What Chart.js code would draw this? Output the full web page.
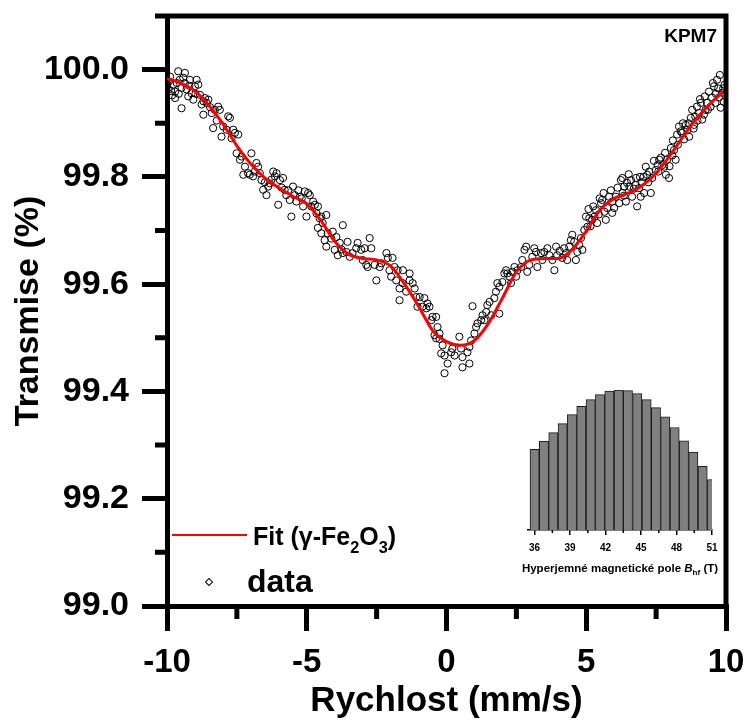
<!DOCTYPE html>
<html><head><meta charset="utf-8">
<script src="https://cdn.jsdelivr.net/npm/chart.js@4.4.1/dist/chart.umd.min.js"></script>
<style>
html,body{margin:0;padding:0;background:#fff;}
#wrap{position:relative;width:749px;height:724px;overflow:hidden;font-family:'Liberation Sans',Arial,sans-serif;color:#000;}
canvas{position:absolute;}
.t{position:absolute;white-space:nowrap;line-height:1;font-weight:bold;}
.sb{font-size:65%;position:relative;top:0.5em;}
.sb2{font-size:70%;position:relative;top:0.35em;}
</style></head><body>
<div id="wrap">
<canvas id="main" width="749" height="724" style="left:0;top:0;width:749px;height:724px"></canvas>
<canvas id="inset" width="240" height="220" style="left:500px;top:370px;width:240px;height:220px"></canvas>
<div class="t" style="right:32px;top:26px;font-size:19px;">KPM7</div>
<div style="position:absolute;left:172px;top:534px;width:75px;height:2px;background:#ff0000"></div>
<div class="t" style="left:253px;top:524px;font-size:25px;">Fit (γ-Fe<span class="sb">2</span>O<span class="sb">3</span>)</div>
<div style="position:absolute;left:206px;top:579px;width:4px;height:4px;border:1px solid #000;transform:rotate(45deg)"></div>
<div class="t" style="left:247px;top:565px;font-size:32px;">data</div>
<div class="t" style="left:620px;top:563px;font-size:11.5px;transform:translateX(-50%)">Hyperjemné magnetické pole <i>B</i><span class="sb2">hf</span> (T)</div>
</div>
<script>
// ---- main spectrum: fit curve ----
const fitVelocity = [-10,-9.5,-9,-8.5,-8,-7.5,-7,-6.5,-6,-5.5,
  -5,-4.5,-4,-3.5,-3,-2.5,-2,-1.5,-1,-0.5,
  0,0.5,1,1.5,2,2.5,3,3.5,4,4.5,
  5,5.5,6,6.5,7,7.5,8,8.5,9,9.5,
  10];
const fitTransmission = [99.983,99.975,99.960,99.933,99.899,99.858,99.824,99.798,99.780,99.764,
  99.750,99.719,99.680,99.656,99.648,99.645,99.634,99.600,99.559,99.514,
  99.493,99.486,99.495,99.527,99.574,99.623,99.645,99.648,99.648,99.665,
  99.699,99.739,99.760,99.770,99.784,99.807,99.840,99.878,99.912,99.940,
  99.963];

// ---- main spectrum: measured points ----
const dataVelocity = [
  -9.97,-9.93,-9.89,-9.82,-9.77,-9.71,-9.71,-9.65,-9.60,-9.54,
  -9.48,-9.48,-9.36,-9.36,-9.30,-9.24,-9.18,-9.12,-9.06,-9.00,
  -8.94,-8.88,-8.82,-8.70,-8.70,-8.64,-8.58,-8.52,-8.40,-8.35,
  -8.29,-8.17,-8.11,-8.05,-7.99,-7.87,-7.81,-7.75,-7.69,-7.63,
  -7.57,-7.51,-7.45,-7.39,-7.33,-7.27,-7.21,-7.10,-7.04,-6.98,
  -6.92,-6.80,-6.74,-6.68,-6.62,-6.56,-6.44,-6.38,-6.32,-6.20,
  -6.14,-6.08,-6.02,-5.96,-5.85,-5.79,-5.73,-5.61,-5.55,-5.49,
  -5.43,-5.37,-5.25,-5.13,-5.07,-5.01,-4.95,-4.89,-4.77,-4.71,
  -4.65,-4.60,-4.60,-4.54,-4.48,-4.48,-4.43,-4.36,-4.30,-4.30,
  -4.25,-4.07,-4.00,-3.94,-3.89,-3.82,-3.71,-3.71,-3.58,-3.54,
  -3.46,-3.36,-3.23,-3.18,-3.05,-3.00,-2.93,-2.87,-2.82,-2.75,
  -2.69,-2.57,-2.51,-2.39,-2.33,-2.15,-2.10,-2.04,-1.98,-1.93,
  -1.86,-1.80,-1.75,-1.68,-1.68,-1.57,-1.56,-1.44,-1.32,-1.32,
  -1.21,-1.14,-1.08,-1.04,-0.96,-0.86,-0.79,-0.72,-0.68,-0.61,
  -0.54,-0.50,-0.43,-0.37,-0.37,-0.32,-0.25,-0.25,-0.19,-0.14,
  -0.07,-0.07,0.04,0.17,0.21,0.29,0.46,0.52,0.57,0.57,
  0.75,0.82,0.82,0.88,0.93,1.00,1.06,1.11,1.24,1.29,
  1.36,1.42,1.46,1.54,1.60,1.71,1.77,1.82,1.89,1.89,
  2.00,2.07,2.13,2.18,2.25,2.31,2.36,2.43,2.49,2.54,
  2.67,2.71,2.79,2.85,2.89,2.96,3.07,3.14,3.20,3.25,
  3.38,3.43,3.50,3.61,3.68,3.79,3.86,3.92,3.96,4.05,
  4.14,4.21,4.28,4.32,4.39,4.45,4.50,4.57,4.63,4.68,
  4.75,4.81,4.86,4.93,4.99,5.04,5.11,5.15,5.21,5.29,
  5.35,5.39,5.45,5.53,5.57,5.65,5.70,5.75,5.82,5.93,
  5.93,6.00,6.06,6.18,6.24,6.29,6.30,6.36,6.42,6.46,
  6.54,6.60,6.64,6.70,6.78,6.82,6.89,6.95,7.00,7.07,
  7.13,7.18,7.25,7.31,7.36,7.49,7.55,7.61,7.67,7.72,
  7.79,7.85,7.89,7.96,8.03,8.10,8.14,8.20,8.25,8.32,
  8.38,8.43,8.50,8.56,8.62,8.68,8.74,8.79,8.86,8.90,
  8.96,9.04,9.10,9.15,9.21,9.27,9.32,9.39,9.45,9.50,
  9.57,9.62,9.64,9.68,9.75,9.81,9.86,9.90,9.95,
  -9.85,-9.58,-9.42,-9.20,-8.98,-8.76,-8.46,-8.22,
  -6.86,-6.50,-6.26,-5.90,-5.66,-5.30,-5.18,-4.84,-4.12,-3.76,
  5.08,5.25,5.48,5.62,5.88,6.12,6.35,6.52,6.75,6.92,
  7.05,7.22,7.42,7.58,7.82,7.98,8.08,8.28,8.46,8.66,
  8.84,8.98,9.07,9.24,9.35,9.53,9.72,9.78,9.92];
const dataTransmission = [
  99.965,99.978,99.987,99.952,99.972,99.959,99.947,99.975,99.997,99.981,
  99.966,99.928,99.994,99.975,99.963,99.950,99.981,99.956,99.944,99.969,
  99.981,99.972,99.953,99.941,99.916,99.947,99.938,99.944,99.919,99.891,
  99.925,99.931,99.925,99.875,99.894,99.888,99.913,99.910,99.872,99.888,
  99.882,99.844,99.879,99.832,99.838,99.804,99.819,99.807,99.804,99.844,
  99.801,99.826,99.819,99.807,99.794,99.776,99.766,99.782,99.788,99.810,
  99.801,99.807,99.748,99.794,99.798,99.776,99.766,99.757,99.726,99.782,
  99.766,99.754,99.763,99.745,99.773,99.726,99.770,99.766,99.754,99.748,
  99.732,99.745,99.705,99.723,99.726,99.695,99.714,99.682,99.729,99.670,
  99.695,99.698,99.664,99.688,99.654,99.677,99.710,99.658,99.660,99.679,
  99.651,99.658,99.667,99.677,99.664,99.645,99.667,99.636,99.632,99.686,
  99.667,99.636,99.607,99.632,99.639,99.658,99.649,99.626,99.614,99.649,
  99.632,99.607,99.626,99.592,99.570,99.602,99.626,99.586,99.607,99.620,
  99.602,99.592,99.576,99.558,99.576,99.558,99.574,99.555,99.564,99.558,
  99.533,99.539,99.505,99.539,99.499,99.520,99.508,99.498,99.471,99.486,
  99.467,99.434,99.452,99.473,99.480,99.467,99.502,99.480,99.464,99.445,
  99.473,99.452,99.483,99.495,99.559,99.508,99.520,99.527,99.533,99.542,
  99.533,99.548,99.561,99.567,99.542,99.574,99.586,99.602,99.595,99.545,
  99.604,99.620,99.626,99.620,99.614,99.602,99.623,99.632,99.614,99.626,
  99.632,99.645,99.664,99.670,99.623,99.636,99.651,99.667,99.660,99.632,
  99.658,99.645,99.660,99.667,99.654,99.645,99.626,99.670,99.654,99.662,
  99.649,99.667,99.658,99.645,99.670,99.682,99.692,99.679,99.645,99.660,
  99.673,99.686,99.664,99.701,99.726,99.707,99.723,99.708,99.720,99.726,
  99.738,99.714,99.730,99.751,99.757,99.735,99.720,99.742,99.763,99.733,
  99.754,99.742,99.763,99.751,99.794,99.798,99.770,99.782,99.754,99.789,
  99.782,99.794,99.763,99.778,99.798,99.745,99.779,99.763,99.790,99.770,
  99.819,99.804,99.810,99.770,99.798,99.813,99.822,99.832,99.836,99.822,
  99.819,99.804,99.832,99.798,99.854,99.868,99.850,99.832,99.879,99.894,
  99.885,99.882,99.870,99.897,99.888,99.875,99.910,99.925,99.897,99.912,
  99.931,99.919,99.938,99.907,99.916,99.925,99.938,99.959,99.931,99.948,
  99.969,99.938,99.955,99.981,99.948,99.929,99.957,99.965,99.972,
  99.960,99.955,99.985,99.970,99.955,99.935,99.930,99.905,
  99.810,99.790,99.795,99.780,99.775,99.775,99.760,99.745,99.685,99.665,
  99.740,99.745,99.760,99.770,99.775,99.780,99.765,99.805,99.785,99.800,
  99.800,99.790,99.830,99.810,99.845,99.820,99.840,99.860,99.900,99.900,
  99.890,99.905,99.945,99.950,99.925,99.975,99.965,99.990,99.940];

// ---- axes ticks ----
const xTickValues = [-10,-5,0,5,10];
const xMinorTicks = [-7.5,-2.5,2.5,7.5];
const yTickValues = [99.0,99.2,99.4,99.6,99.8,100.0];
const yMinorTicks = [99.1,99.3,99.5,99.7,99.9];

// ---- inset: hyperfine field distribution ----
const fieldValues = [36,36.79,37.58,38.37,39.16,39.95,40.74,41.53,42.32,43.11,
  43.89,44.68,45.47,46.26,47.05,47.84,48.63,49.42,50.21,51];
const fieldDistribution = [0.577,0.634,0.696,0.760,0.824,0.884,0.931,0.967,0.993,1.000,
  0.995,0.974,0.931,0.874,0.808,0.732,0.637,0.556,0.454,0.361];
const fieldTickValues = [36,39,42,45,48,51];
const fieldMinorTicks = [37.5,40.5,43.5,46.5,49.5];

const FAM = "'Liberation Sans', Arial, sans-serif";

function noOverhangX(s){ s.paddingLeft = 0; s.paddingRight = 0; }
function noOverhangY(s){ s.paddingTop = 0; s.paddingBottom = 0; }

const mainDecor = {
  id:'mainDecor',
  afterDraw(chart){
    const {ctx, chartArea:ca, scales} = chart;
    const xs = scales.x, ys = scales.y;
    ctx.save();
    ctx.strokeStyle = '#000';
    ctx.lineWidth = 5;
    ctx.lineCap = 'butt';
    ctx.beginPath();
    ctx.moveTo(ca.left - 12, ca.top); ctx.lineTo(ca.right + 2.5, ca.top);
    ctx.moveTo(ca.right, ca.top); ctx.lineTo(ca.right, ca.bottom);
    yMinorTicks.forEach(v => { const p = ys.getPixelForValue(v); ctx.moveTo(ca.left - 12, p); ctx.lineTo(ca.left, p); });
    xMinorTicks.forEach(v => { const p = xs.getPixelForValue(v); ctx.moveTo(p, ca.bottom); ctx.lineTo(p, ca.bottom + 13); });
    ctx.stroke();
    ctx.restore();
  }
};

new Chart(document.getElementById('main'), {
  type: 'scatter',
  data: {
    datasets: [
      {
        label: 'Fit (γ-Fe2O3)',
        data: fitVelocity.map((v, i) => ({x: v, y: fitTransmission[i]})),
        showLine: true,
        borderColor: '#ff0000',
        borderWidth: 3,
        pointRadius: 0,
        cubicInterpolationMode: 'monotone',
        order: 0
      },
      {
        label: 'data',
        data: dataVelocity.map((v, i) => ({x: v, y: dataTransmission[i]})),
        showLine: false,
        pointStyle: 'circle',
        pointRadius: 3.6,
        pointBorderWidth: 1,
        pointBorderColor: '#000',
        pointBackgroundColor: 'rgba(255,255,255,0)',
        order: 1
      }
    ]
  },
  options: {
    responsive: false,
    animation: false,
    devicePixelRatio: 1,
    layout: {padding: {top: 16, right: 23, left: 0, bottom: 0}},
    plugins: {legend: {display: false}, tooltip: {enabled: false}},
    scales: {
      x: {
        type: 'linear', min: -10, max: 10,
        afterFit(s){ s.height = 118; noOverhangX(s); },
        afterBuildTicks(s){ s.ticks = xTickValues.map(v => ({value: v})); },
        ticks: {callback: v => String(v), font: {family: FAM, size: 33, weight: 'bold'}, color: '#000', padding: 12, maxRotation: 0, autoSkip: false},
        grid: {drawOnChartArea: false, drawTicks: true, tickLength: 25, lineWidth: 5, color: '#000'},
        border: {display: true, width: 5, color: '#000'},
        title: {display: true, text: 'Rychlost (mm/s)', font: {family: FAM, size: 35, weight: 'bold'}, color: '#000', padding: {top: 0, bottom: 2}}
      },
      y: {
        type: 'linear', min: 99.0, max: 100.1,
        afterFit(s){ s.width = 167; noOverhangY(s); },
        afterBuildTicks(s){ s.ticks = yTickValues.map(v => ({value: v})); },
        ticks: {callback: v => Number(v).toFixed(1), font: {family: FAM, size: 34, weight: 'bold'}, color: '#000', padding: 13, autoSkip: false},
        grid: {drawOnChartArea: false, drawTicks: true, tickLength: 25, lineWidth: 5, color: '#000'},
        border: {display: true, width: 5, color: '#000'},
        title: {display: true, text: 'Transmise (%)', font: {family: FAM, size: 34, weight: 'bold'}, color: '#000', padding: {top: 8, bottom: 0}}
      }
    }
  },
  plugins: [mainDecor]
});

const insetDecor = {
  id:'insetDecor',
  afterDraw(chart){
    const {ctx, chartArea:ca, scales} = chart;
    ctx.save();
    ctx.strokeStyle = '#000';
    ctx.lineWidth = 1.5;
    ctx.beginPath();
    fieldMinorTicks.forEach(v => { const p = scales.x.getPixelForValue(v); ctx.moveTo(p, ca.bottom); ctx.lineTo(p, ca.bottom + 3); });
    ctx.stroke();
    ctx.restore();
  }
};

new Chart(document.getElementById('inset'), {
  type: 'bar',
  data: {
    datasets: [{
      label: 'P(Bhf)',
      data: fieldValues.map((f, i) => ({x: f, y: fieldDistribution[i]})),
      backgroundColor: '#808080',
      borderColor: '#1a1a1a',
      borderWidth: 1,
      borderSkipped: 'bottom',
      barPercentage: 1,
      categoryPercentage: 1
    }]
  },
  options: {
    responsive: false,
    animation: false,
    devicePixelRatio: 1,
    layout: {padding: {left: 28, right: 28, top: 20, bottom: 0}},
    plugins: {legend: {display: false}, tooltip: {enabled: false}},
    scales: {
      x: {
        type: 'linear', min: 35.44, max: 51.0, offset: false,
        afterFit(s){ s.height = 60; noOverhangX(s); },
        afterBuildTicks(s){ s.ticks = fieldTickValues.map(v => ({value: v})); },
        ticks: {callback: v => String(v), font: {family: FAM, size: 10, weight: 'bold'}, color: '#000', padding: 7, maxRotation: 0, autoSkip: false},
        grid: {drawOnChartArea: false, drawTicks: true, tickLength: 5, lineWidth: 1.5, color: '#000', offset: false},
        border: {display: true, width: 1.5, color: '#000'}
      },
      y: {display: false, min: 0, max: 1.0}
    }
  },
  plugins: [insetDecor]
});
</script>
</body></html>
